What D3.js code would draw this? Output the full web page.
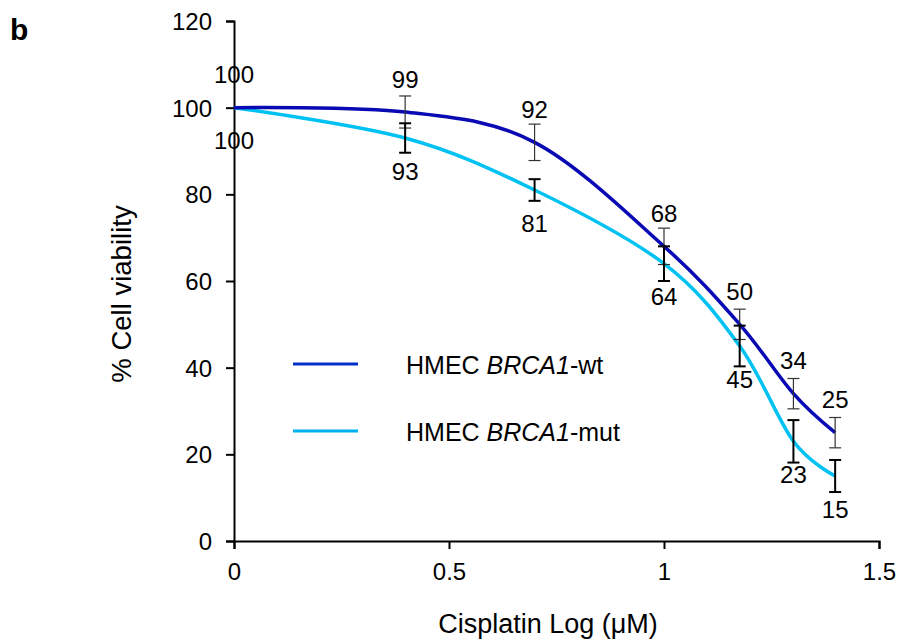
<!DOCTYPE html>
<html><head><meta charset="utf-8">
<script src="https://cdn.jsdelivr.net/npm/d3@7/dist/d3.min.js"></script>
<style>body{margin:0;background:#fff}svg{display:block;font-family:"Liberation Sans",Arial,sans-serif}</style>
</head><body>
<svg id="c" width="900" height="640"></svg>
<script>
const doses = [0, 0.398, 0.699, 1.0, 1.176, 1.301, 1.398];
const wtValues = [100, 99, 92, 68, 50, 34, 25];
const wtErrors = [0, 3.7, 4.2, 4.2, 3.5, 3.5, 3.5];
const mutValues = [100, 93, 81, 64, 45, 23, 15];
const mutErrors = [0, 3.4, 2.5, 4.0, 4.7, 4.9, 3.7];
const xTicks = [0, 0.5, 1, 1.5];
const yTicks = [0, 20, 40, 60, 80, 100, 120];
const seriesNames = ["wt", "mut"];

const FONT = "Liberation Sans, Arial, sans-serif";
const svg = d3.select("#c");
const x = d3.scaleLinear().domain([0, 1.5]).range([234, 879]);
const y = d3.scaleLinear().domain([0, 120]).range([541, 21]);

// axes
const xAxis = d3.axisBottom(x).tickValues(xTicks).tickFormat(d3.format("")).tickSizeOuter(0).tickSize(8);
const gx = svg.append("g").attr("transform", "translate(0,541)").call(xAxis);
gx.attr("font-size", 24).attr("font-family", FONT);
gx.select(".domain").attr("stroke", "#000").attr("stroke-width", 2);
gx.selectAll(".tick line").attr("stroke", "#000").attr("stroke-width", 2);
gx.selectAll(".tick text").attr("fill", "#000").attr("y", 22).attr("dy", "0.71em");

const yAxis = d3.axisLeft(y).tickValues(yTicks).tickSizeOuter(0).tickSize(8);
const gy = svg.append("g").attr("transform", "translate(234,0)").call(yAxis);
gy.attr("font-size", 24).attr("font-family", FONT);
gy.select(".domain").attr("stroke", "#000").attr("stroke-width", 2);
gy.selectAll(".tick line").attr("stroke", "#000").attr("stroke-width", 2);
gy.selectAll(".tick text").attr("fill", "#000").attr("x", -22).attr("dy", "0.35em");

// titles
svg.append("text").attr("x", 548).attr("y", 633).attr("text-anchor", "middle").attr("font-size", 27).text("Cisplatin Log (μM)");
svg.append("text").attr("transform", "translate(131,294) rotate(-90)").attr("text-anchor", "middle").attr("font-size", 27.5).text("% Cell viability");
svg.append("text").attr("x", 10).attr("y", 40).attr("font-size", 30).attr("font-weight", "bold").text("b");

const colors = {wt: "#0a0ab4", mut: "#00c2f2"};
const data = {
  wt: doses.map((d, i) => ({x: d, v: wtValues[i], e: wtErrors[i]})),
  mut: doses.map((d, i) => ({x: d, v: mutValues[i], e: mutErrors[i]}))
};

const line = d3.line().x(d => x(d.x)).y(d => y(d.v)).curve(d3.curveCardinal.tension(0));

// lines
seriesNames.slice().reverse().forEach(s => {
  svg.append("path").attr("d", line(data[s])).attr("fill", "none")
    .attr("stroke", colors[s]).attr("stroke-width", 3.5);
});

// error bars
const ebStyle = {wt: {c: "#333", w: 1.2}, mut: {c: "#000", w: 2}};
seriesNames.forEach(s => {
  const g = svg.append("g");
  data[s].filter(d => d.e > 0).forEach(d => {
    const cx = x(d.x), y1 = y(d.v + d.e), y2 = y(d.v - d.e);
    g.append("line").attr("x1", cx).attr("x2", cx).attr("y1", y1).attr("y2", y2).attr("stroke", ebStyle[s].c).attr("stroke-width", ebStyle[s].w);
    [y1, y2].forEach(yy => g.append("line").attr("x1", cx - 6).attr("x2", cx + 6).attr("y1", yy).attr("y2", yy).attr("stroke", ebStyle[s].c).attr("stroke-width", ebStyle[s].w));
  });
});

// data labels
seriesNames.forEach(s => {
  svg.append("g").selectAll("text").data(data[s]).join("text")
    .attr("x", d => x(d.x)).attr("y", d => s === "wt" ? y(d.v) - 24.5 : y(d.v) + 41.5)
    .attr("text-anchor", "middle").attr("font-size", 24).attr("fill", "#000")
    .text(d => d.v);
});

// legend
const legColors = {wt: "#0030c8", mut: "#00b0f0"};
const legY = {wt: 364, mut: 431};
seriesNames.forEach(s => {
  svg.append("line").attr("x1", 293).attr("x2", 358).attr("y1", legY[s]).attr("y2", legY[s]).attr("stroke", legColors[s]).attr("stroke-width", 3);
  const t = svg.append("text").attr("x", 406).attr("y", legY[s] + 10).attr("font-size", 25).attr("fill", "#000");
  t.append("tspan").text("HMEC ");
  t.append("tspan").attr("font-style", "italic").text("BRCA1");
  t.append("tspan").text("-" + s);
});
</script>
</body></html>
